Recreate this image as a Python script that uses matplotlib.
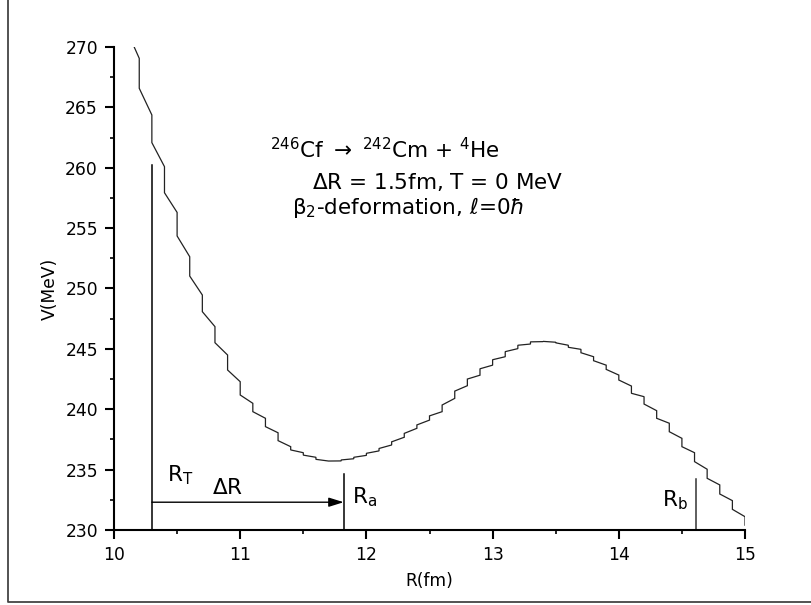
"""Alpha-decay potential V(R) for 246Cf -> 242Cm + 4He (staircase curve)."""

import matplotlib
matplotlib.use("Agg")
import matplotlib.pyplot as plt
import matplotlib.ticker as mticker
from matplotlib.lines import Line2D

# the reference text is a wide sans face; DejaVu Sans matches its footprint
plt.rcParams["font.family"] = ["DejaVu Sans"]
plt.rcParams["mathtext.fontset"] = "dejavusans"

# ---------------------------------------------------------------------------
# Data: the curve jumps at every 0.1 fm
# ---------------------------------------------------------------------------
START_R, START_V = 10.16, 270.0

JUMP_R = [10.2, 10.3, 10.4, 10.5, 10.6, 10.7, 10.8, 10.9, 11.0, 11.1,
          11.2, 11.3, 11.4, 11.5, 11.6, 11.7, 11.8, 11.9, 12.0, 12.1,
          12.2, 12.3, 12.4, 12.5, 12.6, 12.7, 12.8, 12.9, 13.0, 13.1,
          13.2, 13.3, 13.4, 13.5, 13.6, 13.7, 13.8, 13.9, 14.0, 14.1,
          14.2, 14.3, 14.4, 14.5, 14.6, 14.7, 14.8, 14.9, 15.0]

# value just before each jump
V_BEFORE = [269.06, 264.37, 260.09, 256.3, 252.63, 249.46, 246.84, 244.49, 242.28, 240.49,
            239.25, 238.05, 236.9, 236.4, 236.02, 235.71, 235.72, 235.9, 236.18, 236.55,
            237.04, 237.68, 238.42, 239.1, 239.8, 240.9, 241.95, 242.82, 243.65, 244.35,
            245.02, 245.4, 245.6, 245.55, 245.3, 244.96, 244.35, 243.65, 242.83, 241.92,
            241.04, 239.88, 238.84, 237.59, 236.4, 235.03, 233.73, 232.43, 231.1]

# value just after each jump
V_AFTER = [266.58, 262.08, 257.93, 254.35, 251.03, 248.08, 245.51, 243.25, 241.18, 239.8,
           238.56, 237.4, 236.63, 236.2, 235.85, 235.71, 235.8, 236.02, 236.35, 236.75,
           237.3, 238.0, 238.7, 239.45, 240.35, 241.5, 242.5, 243.35, 244.1, 244.77,
           245.3, 245.58, 245.62, 245.5, 245.13, 244.68, 244.02, 243.3, 242.42, 241.32,
           240.43, 239.25, 238.14, 236.9, 235.66, 234.28, 232.98, 231.71, 230.4]

# marker lines
R_T, R_T_TOP = 10.3, 260.2
R_A, R_A_TOP = 11.82, 234.6
R_B, R_B_TOP = 14.61, 234.2
ARROW_V = 232.3

FS_TICK = 12.3   # tick labels and axis titles
FS_NOTE = 15.5   # reaction text block and R labels


def main() -> None:
    r_nodes = [START_R]
    v_nodes = [START_V]
    for r, vb, va in zip(JUMP_R, V_BEFORE, V_AFTER):
        r_nodes += [r, r]
        v_nodes += [vb, va]

    fig = plt.figure(figsize=(8.12, 6.05), dpi=100)
    ax = fig.add_axes([0.1404, 0.1240, 0.7771, 0.7983])

    ax.plot(r_nodes, v_nodes, color="#222222", lw=0.9, solid_joinstyle="miter")

    # R_T, R_a, R_b markers and the Delta R arrow
    ax.plot([R_T, R_T], [230, R_T_TOP], color="black", lw=1.1)
    ax.plot([R_A, R_A], [230, R_A_TOP], color="black", lw=1.1)
    ax.plot([R_B, R_B], [230, R_B_TOP], color="#333333", lw=1.1)
    ax.annotate("", xy=(R_A, ARROW_V), xytext=(R_T, ARROW_V),
                arrowprops=dict(arrowstyle="-|>,head_length=0.9,head_width=0.28",
                                color="black", lw=1.0, shrinkA=0, shrinkB=0))

    ax.text(10.42, 234.0, r"R$_\mathregular{T}$", fontsize=FS_NOTE, va="baseline")
    ax.text(10.78, 232.98, r"$\Delta$R", fontsize=FS_NOTE, va="baseline")
    ax.text(11.885, 232.2, r"R$_\mathregular{a}$", fontsize=FS_NOTE, va="baseline")
    ax.text(14.34, 231.99, r"R$_\mathregular{b}$", fontsize=FS_NOTE, va="baseline")

    ax.text(11.236, 260.78,
            r"$^\mathregular{246}$Cf $\rightarrow$ $^\mathregular{242}$Cm + "
            r"$^\mathregular{4}$He",
            fontsize=FS_NOTE, va="baseline")
    ax.text(11.567, 258.24, r"$\Delta$R = 1.5fm, T = 0 MeV", fontsize=FS_NOTE,
            va="baseline")
    ax.text(11.408, 256.14, r"β$_\mathregular{2}$-deformation, $\ell$=0$\hbar$",
            fontsize=FS_NOTE, va="baseline")

    ax.set_xlim(10, 15)
    ax.set_ylim(230, 270)
    ax.xaxis.set_major_locator(mticker.MultipleLocator(1))
    ax.xaxis.set_minor_locator(mticker.MultipleLocator(0.5))
    ax.yaxis.set_major_locator(mticker.MultipleLocator(5))
    ax.yaxis.set_minor_locator(mticker.MultipleLocator(2.5))
    ax.tick_params(which="major", direction="out", length=6.3, width=1.5,
                   labelsize=FS_TICK, pad=5.3)
    ax.tick_params(which="minor", direction="out", length=3.2, width=1.2)

    for side in ("top", "right"):
        ax.spines[side].set_visible(False)
    for side in ("left", "bottom"):
        ax.spines[side].set_linewidth(1.5)

    ax.set_xlabel("R(fm)", fontsize=FS_TICK, labelpad=6)
    ax.set_ylabel("V(MeV)", fontsize=FS_TICK)
    ax.yaxis.set_label_coords(-0.088, 0.5)

    # outer frame (left and bottom edges of the exported picture)
    fig.add_artist(Line2D([8 / 812, 8 / 812, 1.0], [1.0, 1 - 602 / 605, 1 - 602 / 605],
                          transform=fig.transFigure, color="#444444", lw=1.3))

    fig.savefig("out.png", dpi=100)


if __name__ == "__main__":
    main()
